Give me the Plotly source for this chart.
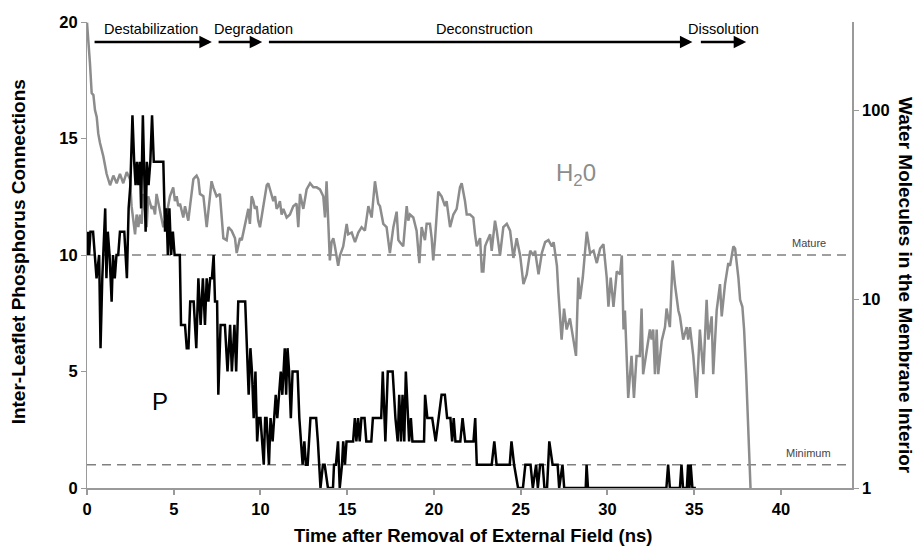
import plotly.graph_objects as go

# ---------------- data ----------------
p_time = [0.0, 0.06, 0.12, 0.2, 0.35, 0.45, 0.55, 0.7, 0.78, 0.88, 0.95, 1.05, 1.12, 1.2, 1.3, 1.42, 1.5, 1.6, 1.7, 1.8,
          1.9, 2.15, 2.3, 2.4, 2.5, 2.62, 2.72, 2.8, 2.88, 2.96, 3.05, 3.12, 3.22, 3.3, 3.38, 3.45, 3.55, 3.65, 3.75, 3.85,
          4.4, 4.5, 4.58, 4.66, 4.75, 4.85, 4.95, 5.05, 5.35, 5.42, 5.65, 5.75, 5.85, 5.95, 6.15, 6.3, 6.42, 6.55, 6.68, 6.8,
          6.9, 7.0, 7.1, 7.2, 7.3, 7.38, 7.5, 7.57, 7.7, 7.95, 8.1, 8.25, 8.35, 8.5, 8.6, 8.72, 9.05, 9.12, 9.22, 9.32,
          9.42, 9.51, 9.61, 9.71, 9.81, 9.9, 10.0, 10.19, 10.27, 10.35, 10.49, 10.58, 10.7, 10.8, 10.88, 10.97, 11.07, 11.17, 11.26, 11.4,
          11.48, 11.56, 11.65, 11.75, 11.85, 12.14, 12.24, 12.33, 12.43, 12.53, 12.62, 12.72, 12.88, 13.21, 13.31, 13.46, 13.6, 13.7, 13.89, 14.18,
          14.24, 14.35, 14.47, 14.57, 14.7, 14.77, 14.87, 14.96, 15.34, 15.44, 15.53, 15.63, 15.72, 15.82, 16.0, 16.1, 16.39, 16.48, 16.96, 17.05,
          17.2, 17.34, 17.62, 17.78, 17.91, 18.0, 18.1, 18.19, 18.29, 18.38, 18.48, 18.57, 18.67, 18.76, 19.43, 19.49, 19.62, 19.9, 20.1, 20.29,
          20.44, 20.63, 20.76, 20.95, 21.05, 21.14, 21.24, 21.52, 21.65, 21.8, 22.28, 22.38, 22.47, 23.33, 23.48, 23.61, 24.37, 24.47, 24.62, 24.85,
          25.13, 25.27, 25.57, 25.7, 25.89, 25.99, 26.12, 26.27, 26.37, 26.52, 26.65, 26.84, 27.13, 27.22, 27.41, 27.51, 28.75, 28.8, 28.88, 33.4,
          33.5, 33.6, 34.18, 34.27, 34.36, 34.58, 34.65, 34.73, 34.8, 34.9, 35.1]
p_conn = [10, 11, 10, 11, 11, 10, 9, 10, 6, 9, 10, 12, 9, 11, 10, 8, 10, 9, 10, 10,
          11, 11, 9, 12, 13, 16, 14, 13, 14, 13, 14, 12, 16, 13, 11, 14, 13, 14, 16, 14,
          14, 11, 12, 10, 12, 10, 11, 10, 10, 7, 7, 6, 6, 8, 8, 6, 9, 7, 9, 7,
          9, 8, 9, 9, 10, 8, 8, 4, 7, 7, 5, 7, 5, 7, 5, 8, 8, 8, 6, 4,
          6, 5, 3, 5, 2, 3, 3, 1, 3, 3, 1, 3, 2, 3, 4, 3, 4, 5, 4, 6,
          4, 6, 5, 3, 5, 5, 3, 2, 1, 2, 1, 1, 3, 3, 2, 0, 1, 1, 0, 0,
          1, 1, 2, 0, 1, 2, 1, 2, 2, 3, 2, 3, 2, 3, 3, 2, 2, 3, 3, 5,
          2, 5, 5, 3, 2, 4, 2, 4, 2, 5, 3, 2, 3, 2, 2, 4, 3, 3, 2, 3,
          4, 4, 3, 3, 2, 3, 2, 2, 3, 2, 2, 3, 1, 1, 2, 1, 1, 2, 1, 0,
          0, 1, 1, 0, 1, 0, 1, 1, 0, 0, 2, 1, 1, 0, 1, 0, 0, 1, 0, 0,
          1, 0, 0, 1, 0, 0, 1, 0, 1, 0, 0]

w_time = [0.0, 0.08, 0.17, 0.27, 0.37, 0.46, 0.56, 0.65, 0.75, 0.94, 1.13, 1.33, 1.52, 1.71, 1.9, 2.09, 2.29, 2.48, 2.57, 2.77,
          2.86, 2.96, 3.05, 3.15, 3.24, 3.34, 3.44, 3.53, 3.63, 3.73, 3.82, 3.92, 4.01, 4.2, 4.4, 4.59, 4.78, 4.97, 5.07, 5.17,
          5.26, 5.36, 5.55, 5.65, 5.74, 5.84, 5.94, 6.13, 6.22, 6.32, 6.42, 6.51, 6.71, 6.9, 7.09, 7.18, 7.28, 7.47, 7.66, 7.86,
          8.05, 8.15, 8.34, 8.53, 8.63, 8.72, 8.82, 8.92, 9.2, 9.3, 9.39, 9.49, 9.59, 9.68, 9.78, 9.87, 9.97, 10.16, 10.36, 10.45,
          10.55, 10.74, 10.84, 10.93, 11.03, 11.12, 11.22, 11.32, 11.51, 11.7, 11.89, 12.08, 12.18, 12.28, 12.47, 12.66, 12.86, 13.05, 13.24, 13.43,
          13.62, 13.72, 13.81, 13.91, 14.0, 14.1, 14.2, 14.29, 14.39, 14.48, 14.58, 14.77, 14.97, 15.06, 15.26, 15.45, 15.64, 15.83, 16.02, 16.22,
          16.41, 16.6, 16.79, 16.89, 17.08, 17.27, 17.46, 17.66, 17.85, 17.95, 18.04, 18.23, 18.43, 18.52, 18.62, 18.81, 19.0, 19.16, 19.29, 19.48,
          19.58, 19.77, 19.87, 19.96, 20.06, 20.25, 20.44, 20.64, 20.73, 20.93, 21.12, 21.31, 21.5, 21.6, 21.79, 21.89, 22.08, 22.27, 22.37, 22.47,
          22.66, 22.76, 22.85, 22.95, 23.04, 23.24, 23.33, 23.52, 23.62, 23.81, 24.0, 24.2, 24.39, 24.58, 24.77, 24.97, 25.16, 25.35, 25.55, 25.74,
          25.83, 26.03, 26.22, 26.41, 26.6, 26.8, 26.9, 27.09, 27.17, 27.36, 27.5, 27.65, 27.84, 28.19, 28.32, 28.42, 28.58, 28.81, 29.0, 29.2,
          29.39, 29.58, 29.77, 29.96, 30.06, 30.19, 30.35, 30.54, 30.73, 30.83, 30.93, 31.01, 31.2, 31.39, 31.53, 31.68, 31.87, 31.97, 32.06, 32.26,
          32.45, 32.55, 32.64, 32.74, 32.84, 32.93, 33.13, 33.32, 33.41, 33.6, 33.76, 33.89, 34.09, 34.18, 34.37, 34.57, 34.66, 34.76, 34.95, 35.14,
          35.33, 35.53, 35.72, 35.82, 36.01, 36.1, 36.3, 36.49, 36.59, 36.78, 36.97, 37.07, 37.26, 37.36, 37.55, 37.65, 37.78, 37.88, 38.0, 38.25]
w_count = [290, 234, 177, 123, 120, 100, 92, 75, 67, 57, 46, 40, 45, 41, 46, 41, 47, 43, 31, 22,
           28, 24, 28, 25, 36, 30, 24, 35, 32, 30, 31, 28, 36, 30, 24, 28, 35, 39, 33, 35,
           31, 32, 27, 31, 28, 26, 31, 43, 44, 45, 43, 36, 35, 24, 35, 42, 39, 35, 36, 21,
           20.5, 24, 23, 21, 17.5, 19, 21, 20.5, 28, 30, 25, 35, 33, 30, 31, 26, 24, 31, 40, 41,
           38, 33, 35, 30, 31, 33, 28, 30, 27, 28, 31, 32, 24, 36, 30, 38, 41, 39, 39, 38,
           35, 27, 42, 26, 16, 20, 21, 19, 17, 15, 17, 19, 25, 22, 22.5, 20, 22.5, 24, 23, 31,
           27, 42, 32, 31, 25, 24, 17.5, 24, 29, 20.5, 20, 19, 31, 26, 28, 27, 23, 15.5, 24, 20.5,
           25, 25, 21, 16, 20.5, 37, 35, 31, 33, 24, 28, 30, 39, 41, 33, 28, 28, 27, 22, 19,
           21, 14, 14, 19, 20, 22, 18, 26, 23, 17, 24, 25, 23, 16.5, 21, 17, 12, 13.5, 18, 17,
           18, 13.5, 17.5, 20, 20.5, 19, 20, 15, 11, 6.1, 8.9, 6.9, 7.9, 5.0, 13, 10, 13, 22.7, 17.5, 18,
           15.5, 18.5, 19.5, 13, 9.1, 13, 9.1, 14, 13.5, 17, 6.9, 8.7, 3.0, 5.0, 3.0, 5.0, 5.0, 8.9, 4.0, 5.4,
           6.9, 6.1, 6.9, 4.0, 6.9, 4.0, 6, 7.1, 8.9, 7.1, 16, 12, 8.7, 8.1, 6.1, 7.1, 6.1, 7.1, 5.0, 3.0,
           6.9, 4.0, 9.9, 6.1, 8.1, 4.0, 8.7, 12, 8.1, 12, 15.5, 15, 19, 18.5, 13, 9.9, 9.1, 6.9, 4.0, 1.0]

x_ticks = [0, 5, 10, 15, 20, 25, 30, 35, 40]
left_ticks = [0, 5, 10, 15, 20]
right_ticks = [1, 10, 100]

mature_level = 10      # on left axis
minimum_level = 1      # on left axis

phase_names = ["Destabilization", "Degradation", "Deconstruction", "Dissolution"]
phase_start = [0.35, 7.5, 10.4, 35.3]
phase_end = [7.2, 10.1, 34.9, 38.0]
phase_label_x = [3.69, 9.57, 22.9, 36.7]

FONT = "Liberation Sans"
GREY = "#8c8c8c"
AXGREY = "#9a9a9a"

fig = go.Figure()

fig.add_trace(go.Scatter(x=w_time, y=w_count, mode="lines", yaxis="y",
                         line=dict(color=GREY, width=2.5), showlegend=False, hoverinfo="skip"))
fig.add_trace(go.Scatter(x=p_time, y=p_conn, mode="lines", yaxis="y2",
                         line=dict(color="black", width=2.5), showlegend=False, hoverinfo="skip"))

shapes = []
for lvl in (mature_level, minimum_level):
    shapes.append(dict(type="line", xref="paper", x0=0, x1=1, yref="y2", y0=lvl, y1=lvl,
                       line=dict(color="#808080", width=1.5, dash="9px,6px"), layer="below"))

ann = []
for name, s, e, lx in zip(phase_names, phase_start, phase_end, phase_label_x):
    ann.append(dict(x=e, y=19.14, xref="x", yref="y2", ax=s, ay=19.14, axref="x", ayref="y2",
                    text="", showarrow=True, arrowhead=2, arrowsize=1, arrowwidth=2.5,
                    arrowcolor="black", standoff=0, startstandoff=0))
    ann.append(dict(x=lx, y=19.72, xref="x", yref="y2", text=name, showarrow=False,
                    font=dict(family=FONT, size=14.5, color="black"), xanchor="center", yanchor="middle"))

ann += [
    dict(x=28.2, y=13.45, xref="x", yref="y2", text="H<sub>2</sub>0", showarrow=False,
         font=dict(family=FONT, size=24, color=GREY), xanchor="center", yanchor="middle"),
    dict(x=4.18, y=3.73, xref="x", yref="y2", text="P", showarrow=False,
         font=dict(family=FONT, size=24, color="black"), xanchor="center", yanchor="middle"),
    dict(x=41.6, y=10.5, xref="x", yref="y2", text="Mature", showarrow=False,
         font=dict(family=FONT, size=11, color="#444"), xanchor="center", yanchor="middle"),
    dict(x=41.6, y=1.5, xref="x", yref="y2", text="Minimum", showarrow=False,
         font=dict(family=FONT, size=11, color="#444"), xanchor="center", yanchor="middle"),
    dict(x=-0.090, y=0.506, xref="paper", yref="paper", text="Inter-Leaflet Phosphorus Connections",
         textangle=-90, showarrow=False, xanchor="center", yanchor="middle",
         font=dict(family=FONT, size=19, color="black", weight="bold")),
    dict(x=1.069, y=0.434, xref="paper", yref="paper", text="Water Molecules in the Membrane Interior",
         textangle=90, showarrow=False, xanchor="center", yanchor="middle",
         font=dict(family=FONT, size=19, color="black", weight="bold")),
    dict(x=0.505, y=-0.101, xref="paper", yref="paper", text="Time after Removal of External Field (ns)",
         showarrow=False, xanchor="center", yanchor="middle",
         font=dict(family=FONT, size=18.5, color="black", weight="bold")),
]

tickfont = dict(family=FONT, size=16.5, color="black", weight="bold")

fig.update_layout(
    width=919, height=549,
    margin=dict(l=87, r=67, t=22, b=61),
    paper_bgcolor="white", plot_bgcolor="white",
    shapes=shapes, annotations=ann,
    xaxis=dict(range=[0, 44.1], tickvals=x_ticks, showgrid=False, zeroline=False,
               showline=True, linecolor=AXGREY, linewidth=2, ticks="outside", ticklen=5,
               tickcolor=AXGREY, tickwidth=1.5, tickfont=tickfont),
    yaxis=dict(type="log", range=[0, 2.466], tickvals=right_ticks, ticktext=[str(v) for v in right_ticks],
               side="right", showgrid=False, zeroline=False, showline=True, linecolor=AXGREY,
               linewidth=1.5, ticks="outside", ticklen=5, tickcolor=AXGREY, tickfont=tickfont),
    yaxis2=dict(range=[0, 20], tickvals=left_ticks, side="left", overlaying="y", anchor="x",
                showgrid=False, zeroline=False, showline=True, linecolor=AXGREY, linewidth=1.2,
                ticks="outside", ticklen=5, tickcolor=AXGREY, tickfont=tickfont),
)

fig.write_html("out.html")
